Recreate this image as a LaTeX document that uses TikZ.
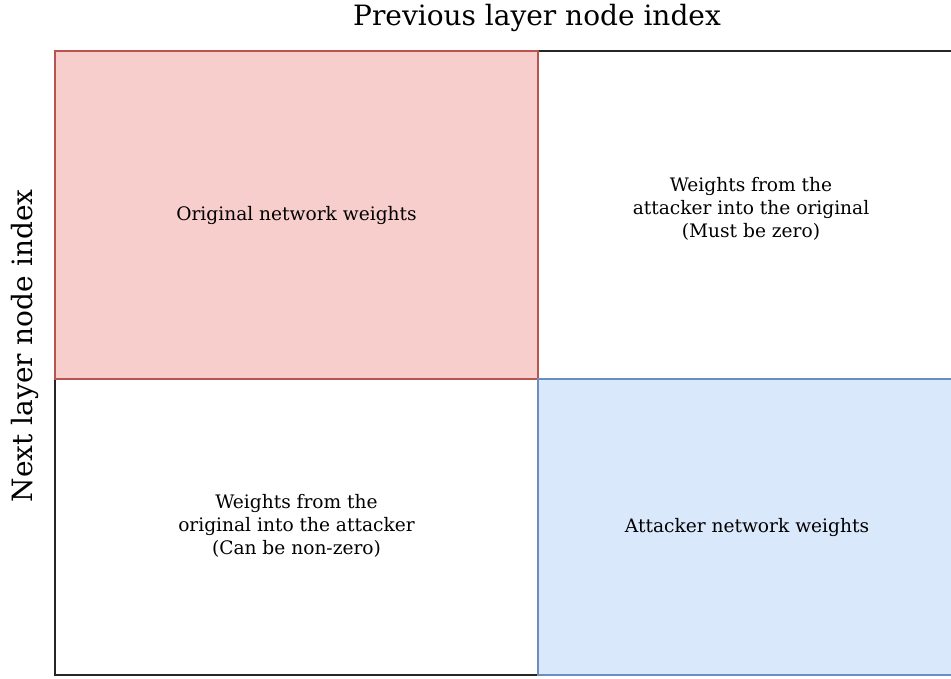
\documentclass[tikz,border=0pt]{standalone}
\usepackage{fontspec}
\setmainfont{DejaVu Serif}
\definecolor{redfill}{HTML}{F8CECC}
\definecolor{redline}{HTML}{B85450}
\definecolor{bluefill}{HTML}{DAE8FC}
\definecolor{blueline}{HTML}{6C8EBF}
\tikzset{
  cell/.style={draw=#1line, fill=#1fill, line width=1.4pt},
  celltext/.style={align=center, font=\fontsize{18.6}{23}\selectfont, inner sep=0pt},
  axislabel/.style={font=\fontsize{28}{33}\selectfont, inner sep=0pt},
}
\begin{document}
\begin{tikzpicture}[x=1pt, y=-1pt]
  \useasboundingbox (0,0) rectangle (951,678);
  \clip (0,0) rectangle (951,678);
  % outer matrix frame
  \draw[line width=1.6pt, black!85] (55,51) rectangle (970,675);
  % diagonal blocks
  \draw[cell=red] (55,51) rectangle (538,379);
  \draw[cell=blue] (538,379) rectangle (970,675);
  % block captions
  \node[celltext] (orig) at (296.5,215) {Original network weights};
  \node[celltext] (a2o) at (751,209) {Weights from the\\attacker into the original\\(Must be zero)};
  \node[celltext] (o2a) at (296.5,526) {Weights from the\\original into the attacker\\(Can be non-zero)};
  \node[celltext] (att) at (747,527) {Attacker network weights};
  % axis labels
  \node[axislabel] (prev) at (537,18) {Previous layer node index};
  \node[axislabel, rotate=90] (next) at (25,346) {Next layer node index};
\end{tikzpicture}
\end{document}
